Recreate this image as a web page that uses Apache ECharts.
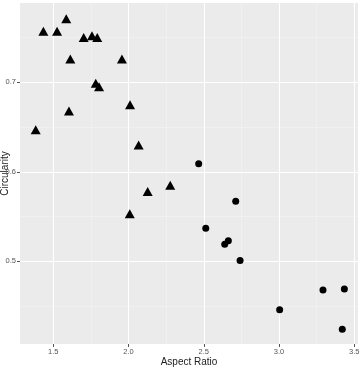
<!DOCTYPE html>
<html>
<head>
<meta charset="utf-8">
<script src="https://cdn.jsdelivr.net/npm/echarts@6/dist/echarts.min.js"></script>
<style>
  html, body { margin: 0; padding: 0; background: #fff; }
  #chart { width: 364px; height: 368px; }
</style>
</head>
<body>
<div id="chart"></div>
<script>
// triangles: [aspect ratio, circularity]
const triangles = [
  [1.434, 0.757], [1.525, 0.757], [1.586, 0.771], [1.702, 0.750],
  [1.757, 0.752], [1.792, 0.750], [1.613, 0.726], [1.956, 0.726],
  [1.782, 0.699], [1.804, 0.695], [2.010, 0.675], [1.604, 0.668],
  [1.383, 0.647], [2.067, 0.630], [2.127, 0.578], [2.277, 0.585],
  [2.008, 0.553]
];
// circles
const circles = [
  [2.466, 0.609], [2.712, 0.567], [2.513, 0.537], [2.663, 0.523],
  [2.639, 0.519], [2.741, 0.501], [3.292, 0.468], [3.434, 0.469],
  [3.004, 0.446], [3.420, 0.424]
];
const xTicks = [1.5, 2.0, 2.5, 3.0, 3.5];
const xMinor = [1.75, 2.25, 2.75, 3.25];
const yTicks = [0.5, 0.6, 0.7];
const yMinor = [0.45, 0.55, 0.65, 0.75];

const chart = echarts.init(document.getElementById("chart"), null, { renderer: "canvas" });

const minorStyle = { color: "#f3f3f3", width: 0.6, type: "solid" };
const majorStyle = { color: "#ffffff", width: 1.1, type: "solid" };
const gridLines = [
  ...xMinor.map((v) => ({ xAxis: v, lineStyle: minorStyle })),
  ...yMinor.map((v) => ({ yAxis: v, lineStyle: minorStyle })),
  ...xTicks.map((v) => ({ xAxis: v, lineStyle: majorStyle })),
  ...yTicks.map((v) => ({ yAxis: v, lineStyle: majorStyle })),
];

chart.setOption({
  animation: false,
  textStyle: { fontFamily: "Liberation Sans, Arial, sans-serif" },
  grid: {
    left: 20, right: 6, top: 3, bottom: 24,
    outerBoundsMode: "none",
    containLabel: false,
    show: true, backgroundColor: "#ebebeb", borderWidth: 0,
  },
  xAxis: {
    type: "value",
    min: 1.2787, max: 3.5246,
    name: "Aspect Ratio",
    nameLocation: "middle",
    nameGap: 13,
    nameMoveOverlap: false,
    nameTextStyle: { color: "#222", fontSize: 10 },
    axisLine: { show: false },
    axisTick: { show: true, length: 3, customValues: xTicks, lineStyle: { color: "#555" } },
    axisLabel: { customValues: xTicks, color: "#555", fontSize: 7.5, margin: 4,
      formatter: (v) => v.toFixed(1) },
    splitLine: { show: false },
  },
  yAxis: {
    type: "value",
    min: 0.4076, max: 0.7886,
    name: "Circularity",
    nameLocation: "middle",
    nameGap: 10,
    nameMoveOverlap: false,
    nameTextStyle: { color: "#222", fontSize: 10 },
    axisLine: { show: false },
    axisTick: { show: true, length: 3, customValues: yTicks, lineStyle: { color: "#555" } },
    axisLabel: { customValues: yTicks, color: "#555", fontSize: 7.5, margin: 4,
      formatter: (v) => v.toFixed(1) },
    splitLine: { show: false },
  },
  series: [
    {
      type: "scatter",
      data: [],
      silent: true,
      z: 1,
      markLine: {
        silent: true,
        symbol: "none",
        z: 1,
        label: { show: false },
        data: gridLines,
      },
    },
    {
      type: "scatter",
      data: triangles,
      z: 5,
      symbol: "triangle",
      symbolSize: [10, 9],
      itemStyle: { color: "#000", opacity: 1 },
    },
    {
      type: "scatter",
      data: circles,
      z: 5,
      symbol: "circle",
      symbolSize: 7,
      itemStyle: { color: "#000", opacity: 1 },
    },
  ],
});
</script>
</body>
</html>
